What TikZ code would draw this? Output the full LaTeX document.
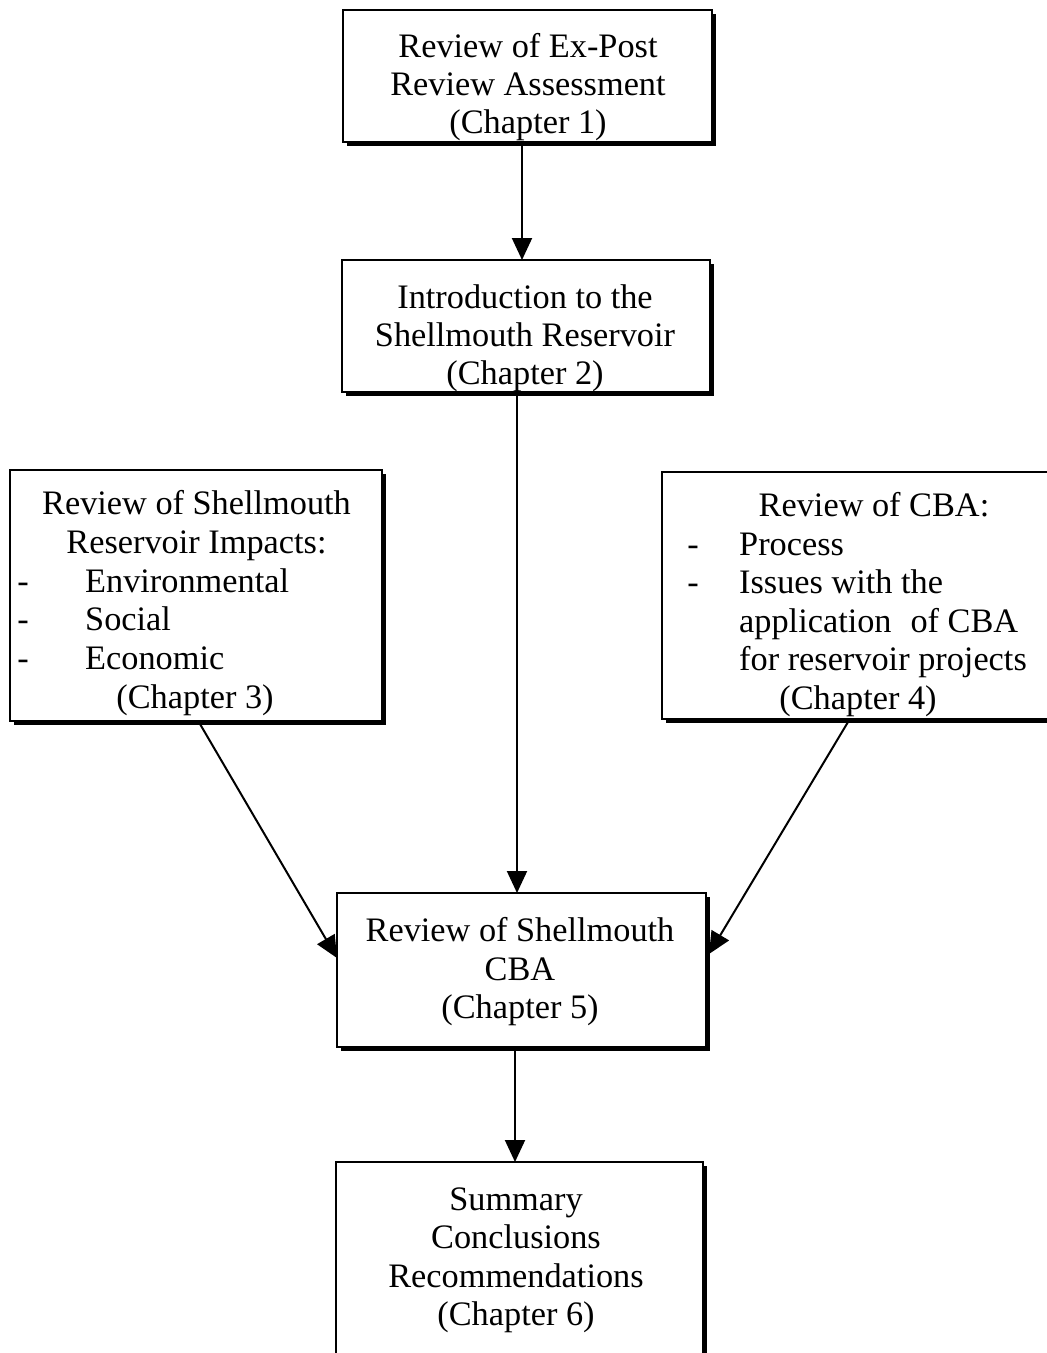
\documentclass[tikz,border=0pt]{standalone}
\usepackage{fontspec}
\setmainfont{Liberation Serif}
\usetikzlibrary{arrows.meta,shadows}
\begin{document}
\begin{tikzpicture}[x=1pt,y=-1pt,
  box/.style={draw=black, line width=1.5pt, fill=white, inner sep=0pt, outer sep=0pt,
    drop shadow={shadow xshift=4pt, shadow yshift=-4pt, fill=black, opacity=1}},
  txt/.style={inner sep=0pt, font=\fontsize{34.3}{40}\selectfont, anchor=base},
  txtl/.style={txt, anchor=base west},
  arr/.style={line width=2pt, -{Triangle[length=22pt,width=20pt]}}]
\useasboundingbox (0,0) rectangle (1047,1353);
% boxes
\node[box, minimum width=369pt, minimum height=132pt] (b1) at (527.5,76) {};
\node[box, minimum width=368pt, minimum height=132pt] (b2) at (526,326) {};
\node[box, minimum width=372pt, minimum height=251pt] (b3) at (196,595.5) {};
\node[box, minimum width=393pt, minimum height=247pt] (b4) at (858.5,595.5) {};
\node[box, minimum width=369pt, minimum height=154pt] (b5) at (521.5,970) {};
\node[box, minimum width=367pt, minimum height=203pt] (b6) at (519.5,1263.5) {};
% connectors
\draw[arr] ([xshift=179pt,yshift=-3pt]b1.south west) -- ([xshift=180pt]b2.north west);
\draw[arr] ([xshift=175pt,yshift=-3pt]b2.south west) -- ([xshift=180pt]b5.north west);
\draw[arr] ([xshift=178pt,yshift=-3pt]b5.south west) -- ([xshift=179pt]b6.north west);
\draw[arr] ([xshift=190pt,yshift=-3pt]b3.south west) -- ([yshift=12pt]b5.west);
\draw[arr] ([xshift=186pt,yshift=-3pt]b4.south west) -- ([xshift=3pt,yshift=16pt]b5.east);
% box 1 text
\node[txt] (t1a) at (528,57) {Review of Ex-Post};
\node[txt] (t1b) at (528,95) {Review Assessment};
\node[txt] (t1c) at (528,133) {(Chapter 1)};
% box 2 text
\node[txt] (t2a) at (525,308) {Introduction to the};
\node[txt] (t2b) at (525,346) {Shellmouth Reservoir};
\node[txt] (t2c) at (525,384) {(Chapter 2)};
% box 3 text
\node[txt] (t3a) at (196.5,514) {Review of Shellmouth};
\node[txt] (t3b) at (196.5,553) {Reservoir Impacts:};
\node[txt] (d3a) at (23,592) {-};
\node[txtl] (t3c) at (85,592) {Environmental};
\node[txt] (d3b) at (23,630) {-};
\node[txtl] (t3d) at (85,630) {Social};
\node[txt] (d3c) at (23,669) {-};
\node[txtl] (t3e) at (85,669) {Economic};
\node[txt] (t3f) at (195,708) {(Chapter 3)};
% box 4 text
\node[txt] (t4a) at (874,516) {Review of CBA:};
\node[txt] (d4a) at (693,555) {-};
\node[txtl] (t4b) at (739,555) {Process};
\node[txt] (d4b) at (693,593) {-};
\node[txtl] (t4c) at (739,593) {Issues with the};
\node[txtl] (t4d) at (739,632) {application\hspace{0.3em} of CBA};
\node[txtl] (t4e) at (739,670) {for reservoir projects};
\node[txt] (t4f) at (858,709) {(Chapter 4)};
% box 5 text
\node[txt] (t5a) at (520,941) {Review of Shellmouth};
\node[txt] (t5b) at (520,980) {CBA};
\node[txt] (t5c) at (520,1018) {(Chapter 5)};
% box 6 text
\node[txt] (t6a) at (516,1210) {Summary};
\node[txt] (t6b) at (516,1248) {Conclusions};
\node[txt] (t6c) at (516,1287) {Recommendations};
\node[txt] (t6d) at (516,1325) {(Chapter 6)};
\end{tikzpicture}
\end{document}
